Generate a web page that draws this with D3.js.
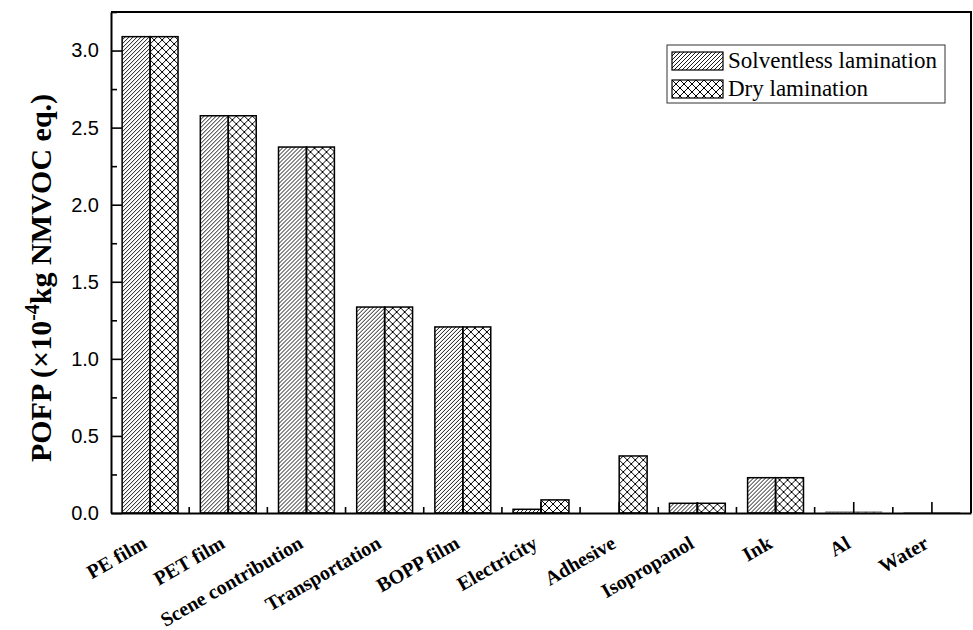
<!DOCTYPE html>
<html>
<head>
<meta charset="utf-8">
<script src="https://cdn.jsdelivr.net/npm/d3@7"></script>
<style>
  body { margin: 0; background: #fff; }
  svg { display: block; }
</style>
</head>
<body>
<div id="chart"></div>
<script>
var w = 973;
var h = 630;

// data
var categories = ["PE film", "PET film", "Scene contribution", "Transportation", "BOPP film",
                  "Electricity", "Adhesive", "Isopropanol", "Ink", "Al", "Water"];
var seriesNames = ["Solventless lamination", "Dry lamination"];
var solventless = [3.09, 2.577, 2.374, 1.336, 1.207, 0.024, 0, 0.063, 0.229, 0.008, 0.003];
var dry = [3.09, 2.577, 2.374, 1.336, 1.207, 0.085, 0.37, 0.063, 0.229, 0.008, 0.003];
var yTicks = [0, 0.5, 1.0, 1.5, 2.0, 2.5, 3.0];
var yMinor = [0.25, 0.75, 1.25, 1.75, 2.25, 2.75, 3.25];

// plot box
var pLeft = 111, pRight = 971, pTop = 12, pBottom = 513;

var svg = d3.select("#chart")
            .append("svg")
            .attr("width", w)
            .attr("height", h);

// hatch patterns
var defs = svg.append("defs");
var p1 = defs.append("pattern")
    .attr("id", "hatch")
    .attr("patternUnits", "userSpaceOnUse")
    .attr("width", 4).attr("height", 4);
p1.append("path")
    .attr("d", "M-1,1 L1,-1 M0,4 L4,0 M3,5 L5,3")
    .attr("stroke", "#000").attr("stroke-width", 0.9);

var p2 = defs.append("pattern")
    .attr("id", "cross")
    .attr("patternUnits", "userSpaceOnUse")
    .attr("width", 8).attr("height", 8);
p2.append("path")
    .attr("d", "M0,0 L8,8 M0,8 L8,0 M-1,1 L1,-1 M7,9 L9,7 M-1,7 L1,9 M7,-1 L9,1")
    .attr("stroke", "#000").attr("stroke-width", 1);

var fills = ["url(#hatch)", "url(#cross)"];

// scales
var x = d3.scaleBand()
    .domain(categories)
    .range([pLeft, pRight])
    .paddingInner(0.285)
    .paddingOuter(0.1425);

var x1 = d3.scaleBand()
    .domain([0, 1])
    .range([0, x.bandwidth()]);

var y = d3.scaleLinear()
    .domain([0, 3.25])
    .range([pBottom, pTop]);

// bars
var rows = categories.map(function(c, i) {
  return { cat: c, vals: [solventless[i], dry[i]] };
});

var groups = svg.selectAll(".grp")
    .data(rows)
    .enter()
    .append("g")
    .attr("class", "grp")
    .attr("transform", function(d) { return "translate(" + x(d.cat) + ",0)"; });

groups.selectAll("rect")
    .data(function(d) { return d.vals; })
    .enter()
    .append("rect")
    .attr("x", function(d, i) { return x1(i); })
    .attr("y", function(d) { return y(d); })
    .attr("width", x1.bandwidth())
    .attr("height", function(d) { return pBottom - y(d); })
    .attr("fill", function(d, i) { return fills[i]; })
    .attr("stroke", function(d) { return d > 0.02 ? "#000" : "#999"; })
    .attr("stroke-width", function(d) { return d > 0.02 ? 1.5 : 1; });

// y axis (ticks inward)
var yAxis = svg.append("g")
    .attr("transform", "translate(" + pLeft + ",0)")
    .call(d3.axisLeft(y)
      .tickValues(yTicks)
      .tickFormat(d3.format(".1f"))
      .tickSizeInner(-11)
      .tickSizeOuter(0)
      .tickPadding(12));
yAxis.select(".domain").attr("stroke-width", 2);
yAxis.selectAll(".tick line").attr("stroke-width", 1.6);
yAxis.selectAll("text")
    .style("font-family", "'Liberation Sans', Arial, sans-serif")
    .style("font-size", "20px")
    .attr("fill", "#000");

svg.append("g")
    .attr("transform", "translate(" + pLeft + ",0)")
    .call(d3.axisLeft(y).tickValues(yMinor).tickFormat("").tickSizeInner(-6).tickSizeOuter(0))
    .call(function(g) { g.select(".domain").remove(); })
    .selectAll("line").attr("stroke-width", 1.6);

// x axis
var xAxis = svg.append("g")
    .attr("transform", "translate(0," + pBottom + ")")
    .call(d3.axisBottom(x).tickSizeInner(-11).tickSizeOuter(0).tickPadding(0));
xAxis.select(".domain").attr("stroke-width", 2.2);
xAxis.selectAll(".tick line").attr("stroke-width", 1.6);
xAxis.selectAll("text")
    .attr("text-anchor", "end")
    .attr("y", 0)
    .attr("dy", 0)
    .attr("transform", "translate(-2,34) rotate(-30)")
    .style("font-family", "'Liberation Serif', 'Times New Roman', serif")
    .style("font-weight", "bold")
    .style("font-size", "20px")
    .attr("fill", "#000");

// minor ticks between categories
var bounds = categories.slice(1).map(function(c) { return x(c) - x.step() * x.paddingInner() / 2; });
svg.selectAll(".xminor")
    .data(bounds)
    .enter()
    .append("line")
    .attr("class", "xminor")
    .attr("x1", function(d) { return d; })
    .attr("x2", function(d) { return d; })
    .attr("y1", pBottom)
    .attr("y2", pBottom - 6)
    .attr("stroke", "#000")
    .attr("stroke-width", 1.6);

// frame top and right
svg.append("path")
    .attr("d", "M" + pLeft + "," + pTop + " H" + pRight + " V" + pBottom)
    .attr("fill", "none")
    .attr("stroke", "#000")
    .attr("stroke-width", 2);

// y title
var yt = svg.append("text")
    .attr("transform", "translate(51,278) rotate(-90)")
    .attr("text-anchor", "middle")
    .style("font-family", "'Liberation Serif', 'Times New Roman', serif")
    .style("font-weight", "bold")
    .style("font-size", "30px")
    .attr("fill", "#000");
yt.append("tspan").text("POFP (\u00d710");
yt.append("tspan").attr("dy", -12).style("font-size", "20px").text("-4");
yt.append("tspan").attr("dy", 12).text("kg NMVOC eq.)");

// legend
var lg = svg.append("g").attr("transform", "translate(667,45)");
lg.append("rect")
    .attr("width", 278).attr("height", 58)
    .attr("fill", "#fff")
    .attr("stroke", "#333")
    .attr("stroke-width", 1);
var items = lg.selectAll(".item")
    .data(seriesNames)
    .enter()
    .append("g")
    .attr("class", "item")
    .attr("transform", function(d, i) { return "translate(5," + (7 + i * 28) + ")"; });
items.append("rect")
    .attr("width", 51).attr("height", 18)
    .attr("fill", function(d, i) { return fills[i]; })
    .attr("stroke", "#000")
    .attr("stroke-width", 1.2);
items.append("text")
    .attr("x", 56)
    .attr("y", 16)
    .style("font-family", "'Liberation Serif', 'Times New Roman', serif")
    .style("font-size", "23px")
    .attr("fill", "#000")
    .text(function(d) { return d; });
</script>
</body>
</html>
